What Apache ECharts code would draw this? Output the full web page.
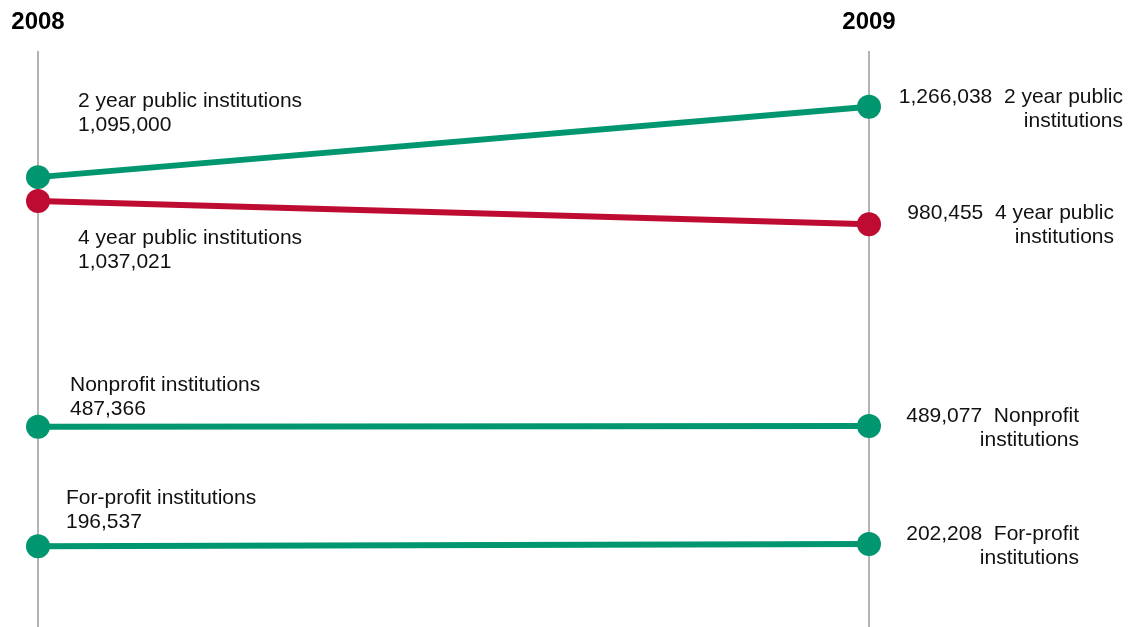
<!DOCTYPE html>
<html>
<head>
<meta charset="utf-8">
<script src="https://cdn.jsdelivr.net/npm/echarts@6/dist/echarts.min.js"></script>
<style>
  html, body { margin: 0; padding: 0; background: #fff; }
  #chart { width: 1141px; height: 627px; }
</style>
</head>
<body>
<div id="chart"></div>
<script>
// Enrollment by institution type, 2008 vs 2009
const years = ['2008', '2009'];
const seriesNames = [
  '2 year public institutions',
  '4 year public institutions',
  'Nonprofit institutions',
  'For-profit institutions'
];
const twoYearPublic = [1095000, 1266038];
const fourYearPublic = [1037021, 980455];
const nonprofit = [487366, 489077];
const forProfit = [196537, 202208];

const GREEN = '#00966f';
const RED = '#be0b32';
const FONT = '"Liberation Sans", Arial, sans-serif';

const fmt = v => v.toLocaleString('en-US');

// Split "X ... institutions" into the leading words and the last word
function splitName(name) {
  const i = name.lastIndexOf(' ');
  return [name.slice(0, i), name.slice(i + 1)];
}

// Label placement for the start (left) and end (right) points of each line
const labelPlacement = [
  { left: [52, -76], right: [266, -10] },
  { left: [52, 37],  right: [257, -11] },
  { left: [44, -42], right: [222, -10] },
  { left: [40, -48], right: [222, -10] }
];

const seriesValues = [twoYearPublic, fourYearPublic, nonprofit, forProfit];
const seriesColors = [GREEN, RED, GREEN, GREEN];

const baseLabel = {
  show: true,
  color: '#111',
  fontFamily: FONT,
  fontSize: 21,
  lineHeight: 24,
  verticalAlign: 'top'
};

const series = seriesValues.map((vals, s) => {
  const name = seriesNames[s];
  const [head, tail] = splitName(name);
  const place = labelPlacement[s];
  return {
    name: name,
    type: 'line',
    symbol: 'circle',
    symbolSize: 24,
    lineStyle: { width: 6, color: seriesColors[s] },
    itemStyle: { color: seriesColors[s] },
    z: 2 + s,
    data: vals.map((v, i) => ({
      value: v,
      label: i === 0
        ? Object.assign({}, baseLabel, {
            position: place.left,
            align: 'left',
            formatter: name + '\n' + fmt(v)
          })
        : Object.assign({}, baseLabel, {
            position: place.right,
            align: 'right',
            formatter: fmt(v) + '  ' + head + '\n' + tail
          })
    }))
  };
});

const chart = echarts.init(document.getElementById('chart'), null, { renderer: 'canvas' });
chart.setOption({
  animation: false,
  backgroundColor: '#fff',
  grid: { left: 38, right: 272, top: 51, bottom: -5, containLabel: false },
  xAxis: {
    type: 'category',
    data: years,
    boundaryGap: false,
    position: 'top',
    axisLine: { show: false },
    axisTick: { show: false },
    axisLabel: {
      color: '#000',
      fontFamily: FONT,
      fontWeight: 'bold',
      fontSize: 24,
      margin: 17
    },
    splitLine: { show: true, lineStyle: { color: '#9a9a9a', width: 1.5 } }
  },
  yAxis: {
    type: 'value',
    min: 0,
    max: 1402000,
    show: false,
    splitLine: { show: false }
  },
  series: series
});
</script>
</body>
</html>
